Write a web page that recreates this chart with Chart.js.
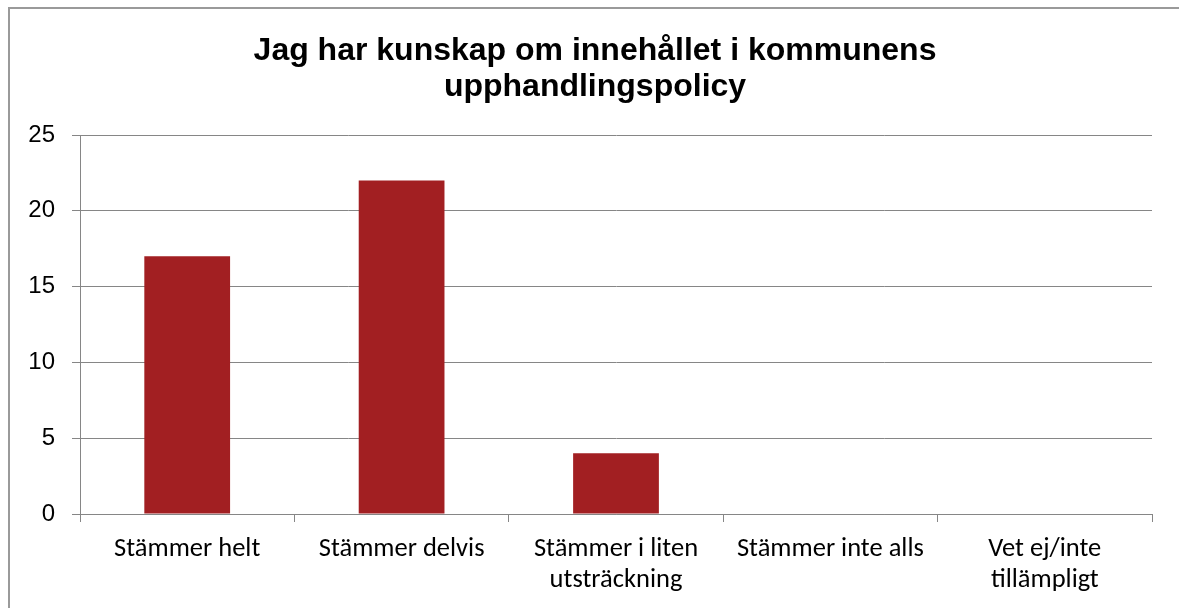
<!DOCTYPE html>
<html>
<head>
<meta charset="utf-8">
<script src="https://cdn.jsdelivr.net/npm/chart.js@4/dist/chart.umd.min.js"></script>
<style>
    html, body { margin: 0; padding: 0; background: #fff; overflow: hidden; }
    #wrap   { position: relative; width: 1179px; height: 608px; }
    #frame  { position: absolute; left: 8px; top: 7px; width: 1200px; height: 700px;
              border: 2px solid #9a9a9a; box-sizing: border-box; pointer-events: none; }
    canvas  { position: absolute; left: 0; top: 0; }
</style>
</head>
<body>
<div id="wrap">
    <canvas id="chart" width="1179" height="608"></canvas>
    <div id="frame"></div>
</div>
<script>
const TITLE_LINES = ['Jag har kunskap om innehållet i kommunens', 'upphandlingspolicy'];

const categories = [
    'Stämmer helt',
    'Stämmer delvis',
    ['Stämmer i liten', 'utsträckning'],
    'Stämmer inte alls',
    ['Vet ej/inte', 'tillämpligt']
];

const answers = [17, 22, 4, 0, 0];

const Y_MIN  = 0;
const Y_MAX  = 25;
const Y_STEP = 5;

const AXIS_GREY = '#868686';
const BAR_RED   = '#A21F22';
const ARIAL     = 'Arial, "Liberation Sans", sans-serif';
const CALIBRI   = 'Carlito, Lato, sans-serif';

// the title is centred on the framed box, not on the plot
const shiftTitle = {
    id: 'shiftTitle',
    afterLayout(chart) {
        const t = chart.titleBlock;
        if (!t) return;
        t.left  = 38;
        t.right = 1152;
    }
};

const ctx = document.getElementById('chart').getContext('2d');

new Chart(ctx, {
    type: 'bar',
    data: {
        labels: categories,
        datasets: [{
            label:              'Antal',
            data:               answers,
            backgroundColor:    BAR_RED,
            borderWidth:        0,
            barPercentage:      0.4,
            categoryPercentage: 1.0,
        }]
    },
    options: {
        responsive:       false,
        devicePixelRatio: 1,
        animation:        false,
        layout: { padding: { left: 0, right: 27, top: 0, bottom: 0 } },
        plugins: {
            legend:  { display: false },
            tooltip: { enabled: false },
            title: {
                display: true,
                text:    TITLE_LINES,
                color:   '#000',
                font:    { family: ARIAL, size: 32, weight: 'bold', lineHeight: 1.125 },
                padding: { top: 33, bottom: 30 }
            }
        },
        scales: {
            x: {
                offset: true,
                grid: {
                    offset:          true,
                    drawOnChartArea: false,
                    drawTicks:       true,
                    tickLength:      8,
                    color:           AXIS_GREY,
                    lineWidth:       1
                },
                border: { display: true, color: AXIS_GREY, width: 1 },
                ticks: {
                    color:       '#000',
                    font:        { family: CALIBRI, size: 26.5, lineHeight: 1.17 },
                    padding:     12,
                    maxRotation: 0,
                    autoSkip:    false
                },
                afterFit: scale => { scale.height = 94; }
            },
            y: {
                min: Y_MIN,
                max: Y_MAX,
                grid: {
                    color:      AXIS_GREY,
                    lineWidth:  1,
                    drawTicks:  true,
                    tickLength: 8
                },
                border: { display: true, color: AXIS_GREY, width: 1 },
                ticks: {
                    stepSize: Y_STEP,
                    color:    '#000',
                    font:     { family: ARIAL, size: 24 },
                    padding:  17
                },
                afterFit: scale => { scale.width = 80; }
            }
        }
    },
    plugins: [shiftTitle]
});
</script>
</body>
</html>
